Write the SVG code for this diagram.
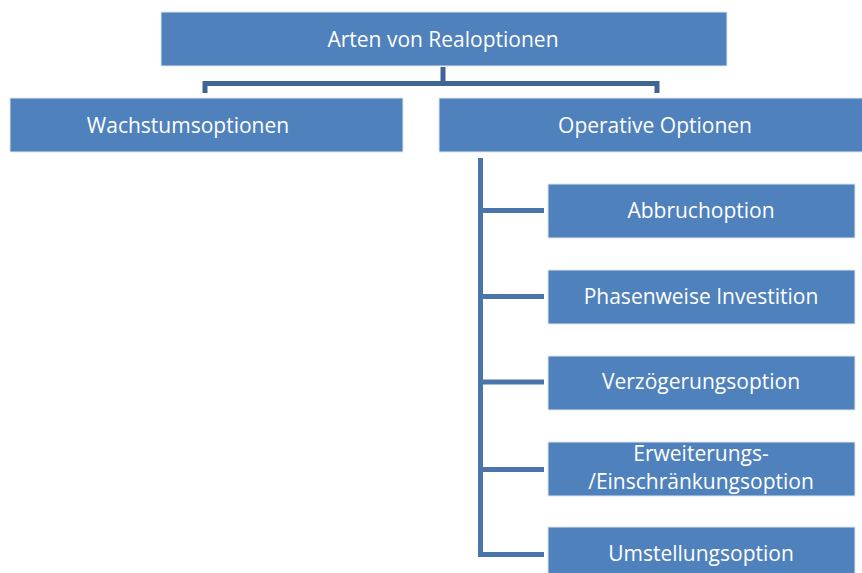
<svg xmlns="http://www.w3.org/2000/svg" width="862" height="573" viewBox="0 0 862 573">
<style>
.box{fill:#4f81bd;stroke:#dfe6ef;stroke-width:1}
.t{font-family:"Open Sans","Liberation Sans",Arial,sans-serif;font-size:21px;fill:#ffffff;text-anchor:middle}
.c{fill:none;stroke-width:5;stroke-linejoin:miter;stroke-linecap:butt}
</style>
<rect width="862" height="573" fill="#ffffff"/>
<g id="connectors">
<path class="c" stroke="#3f6595" d="M443,67 V84 M205,93 V83.5 H657 V93"/>
<path class="c" stroke="#4a75ab" d="M480.5,158 V554.5 H544 M480.5,210.5 H544 M480.5,296.5 H544 M480.5,382 H544 M480.5,469.5 H544"/>
</g>
<g id="root"><rect class="box" x="161" y="12" width="566" height="54"/><text class="t" x="443" y="47">Arten von Realoptionen</text></g>
<g id="wachstum"><rect class="box" x="10" y="98" width="393" height="54"/><text class="t" x="188" y="133">Wachstumsoptionen</text></g>
<g id="operativ"><rect class="box" x="439" y="98" width="430" height="54"/><text class="t" x="655" y="133">Operative Optionen</text></g>
<g id="abbruch"><rect class="box" x="548" y="184" width="307" height="54"/><text class="t" x="701" y="218">Abbruchoption</text></g>
<g id="phasen"><rect class="box" x="548" y="270" width="307" height="54"/><text class="t" x="701" y="304">Phasenweise Investition</text></g>
<g id="verzoegerung"><rect class="box" x="548" y="356" width="307" height="54"/><text class="t" x="701" y="389">Verzögerungsoption</text></g>
<g id="erweiterung"><rect class="box" x="548" y="442" width="307" height="54"/><text class="t" x="701" y="461">Erweiterungs-</text><text class="t" x="701" y="489">/Einschränkungsoption</text></g>
<g id="umstellung"><rect class="box" x="548" y="527" width="307" height="54"/><text class="t" x="701" y="561">Umstellungsoption</text></g>
</svg>
